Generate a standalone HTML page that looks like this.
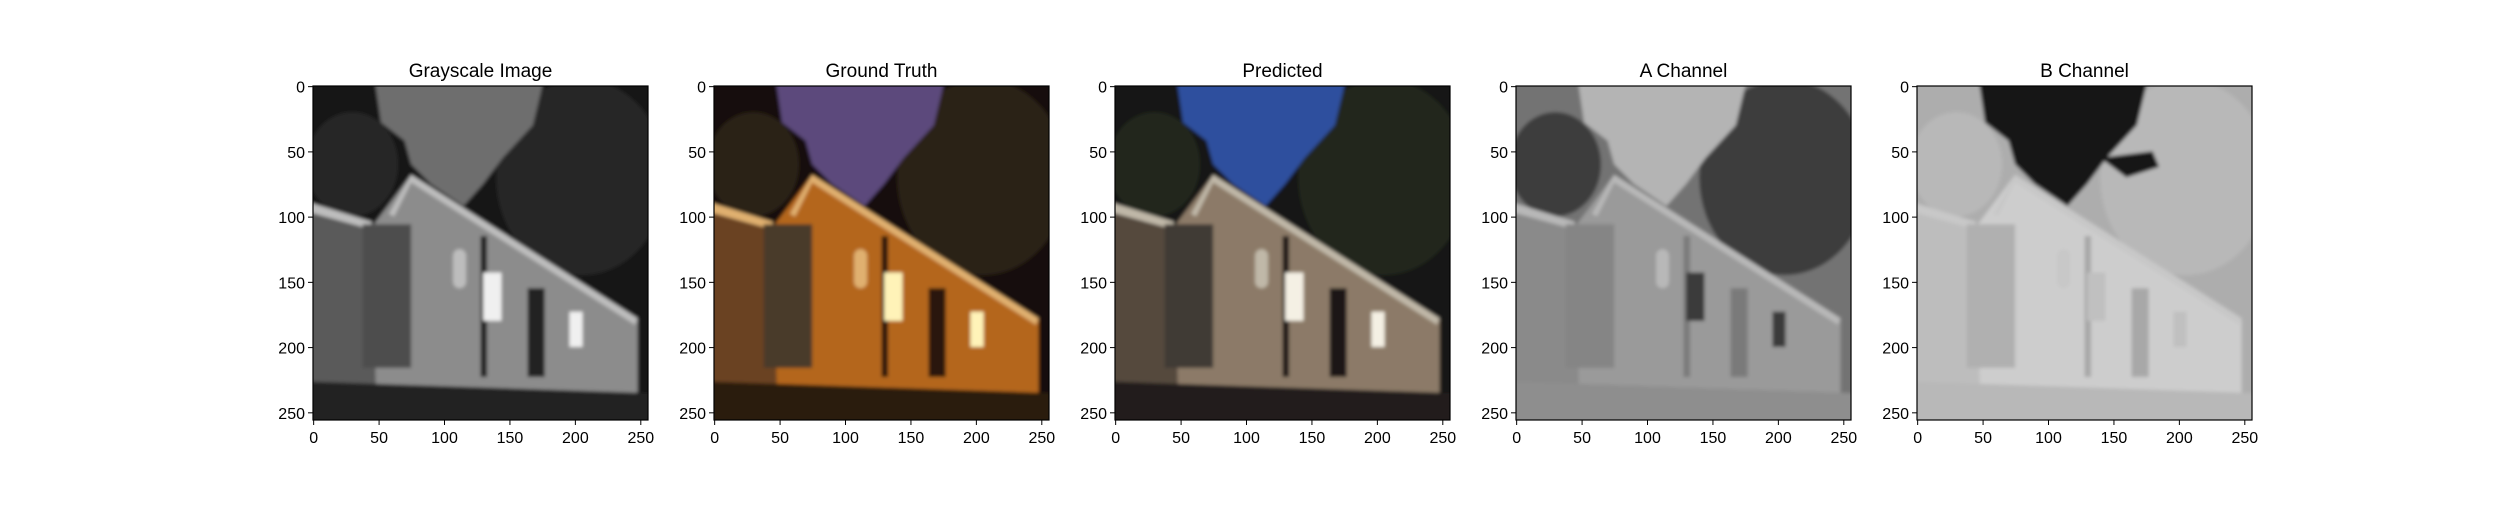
<!DOCTYPE html>
<html><head><meta charset="utf-8">
<style>
html,body{margin:0;padding:0;background:#fff;}
body{width:2500px;height:500px;overflow:hidden;font-family:"Liberation Sans","DejaVu Sans",sans-serif;}
</style></head>
<body>
<svg id="fig" width="2500" height="500" viewBox="0 0 2500 500" xmlns="http://www.w3.org/2000/svg">
<defs>
<filter id="soft" x="-0.1" y="-0.1" width="1.2" height="1.2"><feGaussianBlur stdDeviation="1.5"/></filter>
<clipPath id="imgclip"><rect x="0" y="0" width="256" height="256"/></clipPath>
</defs>
</svg>
<script>
const titles = ["Grayscale Image","Ground Truth","Predicted","A Channel","B Channel"];
const xTicks = [0,50,100,150,200,250];
const yTicks = [0,50,100,150,200,250];
const imgSize = 256;
const palettes = [
 {bg:"#181818",tree:"#262626",sky:"#6e6e6e",wall:"#8c8c8c",wall2:"#5a5a5a",tank:"#4e4e4e",win:"#f0f0f0",door:"#202020",ground:"#222222",roof:"#bdbdbd"},
 {bg:"#17110a",tree:"#2a2214",sky:"#5c4a7c",wall:"#b4661c",wall2:"#6a4220",tank:"#4a3a2a",win:"#fff3b8",door:"#2a1608",ground:"#2a1a0e",roof:"#e0b070"},
 {bg:"#141812",tree:"#20281a",sky:"#2f4f9e",wall:"#8c7a68",wall2:"#54483e",tank:"#403a34",win:"#f4f0e4",door:"#1c1814",ground:"#221e1a",roof:"#c0b8a8"},
 {bg:"#737373",tree:"#3e3e3e",sky:"#b4b4b4",wall:"#9a9a9a",wall2:"#8a8a8a",tank:"#858585",win:"#3a3a3a",door:"#7a7a7a",ground:"#8e8e8e",roof:"#b8b8b8"},
 {bg:"#adadad",tree:"#b8b8b8",sky:"#151515",wall:"#cdcdcd",wall2:"#bdbdbd",tank:"#b0b0b0",win:"#c0c0c0",door:"#a8a8a8",ground:"#b8b8b8",roof:"#c8c8c8"}
];
const axLeft = [313,714,1115,1516,1917];
const axTop = 86, axW = 335, axH = 334;
const NS = "http://www.w3.org/2000/svg";
const fig = document.getElementById("fig");
function mk(tag, attrs, parent){const e=document.createElementNS(NS,tag);for(const k in attrs)e.setAttribute(k,attrs[k]);(parent||fig).appendChild(e);return e;}

titles.forEach((t,i)=>{
  const L = axLeft[i];
  const sx = v => L + (v+0.5)/imgSize*axW;
  const sy = v => axTop + (v+0.5)/imgSize*axH;
  const p = palettes[i];
  const g = mk("g",{});
  
  
  const img = mk("g",{transform:`translate(${L},${axTop}) scale(${axW/256},${axH/256})`},g);
  
  
  const clip = mk("g",{"clip-path":"url(#imgclip)"},img);
  const inner = mk("g",{filter:"url(#soft)"},clip);
  mk("rect",{x:-20,y:-20,width:296,height:296,fill:p.bg},inner);
  mk("ellipse",{cx:30,cy:60,rx:35,ry:40,fill:p.tree},inner);
  mk("ellipse",{cx:205,cy:70,rx:65,ry:75,fill:p.tree},inner);
  mk("polygon",{points:"45,-20 180,-20 168,30 145,55 130,75 115,92 90,75 75,60 70,42 52,28",fill:p.sky},inner);
  if(i===4) mk("polygon",{points:"140,55 180,50 185,62 160,70",fill:p.sky},inner);
  mk("polygon",{points:"-20,90 45,108 75,68 248,178 248,238 -20,232",fill:p.wall},inner);
  mk("polygon",{points:"-20,90 45,108 48,230 -20,230",fill:p.wall2},inner);
  mk("polygon",{points:"75,68 248,178 246,183 75,74 62,100 58,98",fill:p.roof},inner);
  mk("polygon",{points:"-20,84 45,104 45,110 -20,92",fill:p.roof},inner);
  mk("rect",{x:38,y:106,width:37,height:110,fill:p.tank},inner);
  mk("rect",{x:128,y:115,width:5,height:108,fill:p.door},inner);
  mk("rect",{x:130,y:143,width:14,height:37,fill:p.win},inner);
  mk("rect",{x:196,y:173,width:10,height:27,fill:p.win},inner);
  mk("rect",{x:164,y:155,width:13,height:68,fill:p.door},inner);
  mk("rect",{x:107,y:125,width:10,height:30,rx:5,fill:p.roof},inner);
  mk("polygon",{points:"-20,226 276,236 276,276 -20,276",fill:p.ground},inner);
  const fr = mk("rect",{x:L,y:axTop,width:axW,height:axH,fill:"none",stroke:"#000","stroke-width":1.2},g);
  
  
  const tt = mk("text",{x:L+axW/2,y:77,"text-anchor":"middle","font-size":"19px",fill:"#000"},g);
  tt.textContent = t;
  
  
  xTicks.forEach(v=>{
    const x = sx(v);
    const tk = mk("line",{x1:x,x2:x,y1:axTop+axH,y2:axTop+axH+5,stroke:"#000","stroke-width":1},g);
    
    
    const lb = mk("text",{x:x,y:axTop+axH+23,"text-anchor":"middle","font-size":"16px",fill:"#000"},g);
    lb.textContent = v;
    
    
  });
  yTicks.forEach(v=>{
    const y = sy(v);
    const tk = mk("line",{x1:L-5,x2:L,y1:y,y2:y,stroke:"#000","stroke-width":1},g);
    
    
    const lb = mk("text",{x:L-8,y:y+6,"text-anchor":"end","font-size":"16px",fill:"#000"},g);
    lb.textContent = v;
    
    
  });
});
</script>
</body></html>
